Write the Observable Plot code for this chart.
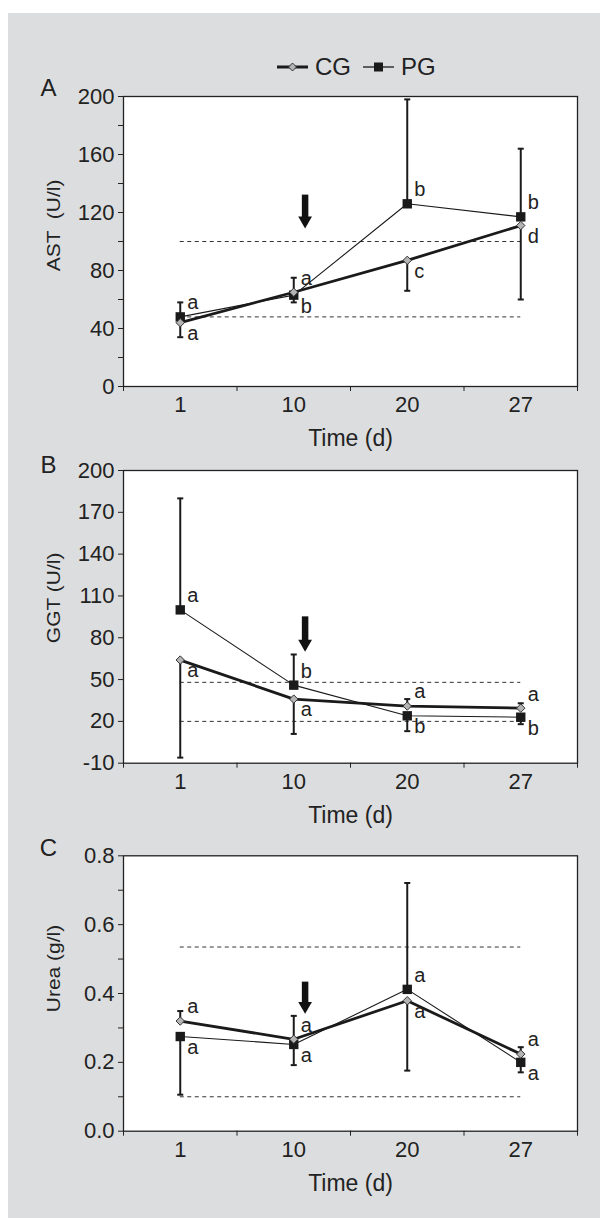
<!DOCTYPE html>
<html>
<head>
<meta charset="utf-8">
<script src="https://cdn.jsdelivr.net/npm/d3@7"></script>
<script src="https://cdn.jsdelivr.net/npm/@observablehq/plot@0.6"></script>
<style>
  html, body { margin: 0; padding: 0; background: #ffffff; }
  body { position: relative; width: 600px; height: 1218px; overflow: hidden; }
  #bg { position: absolute; left: 8px; top: 13px; width: 592px; height: 1205px; background: #dcdddf; }
  .panel { position: absolute; left: 0; }
  #legend { position: absolute; left: 277px; top: 53px; height: 28px; display: flex; align-items: center;
            font-family: "Liberation Sans Narrow","Arial Narrow","Liberation Sans",Arial,sans-serif; font-size: 24px; color: #222; }
  #legend .item { display: flex; align-items: center; margin-right: 12px; }
  #legend svg { margin-right: 7px; }
</style>
</head>
<body>
<div id="bg"></div>
<div id="legend"></div>
<div id="pA" class="panel" style="top:0px"></div>
<div id="pB" class="panel" style="top:420px"></div>
<div id="pC" class="panel" style="top:800px"></div>
<script>
const FONT = '"Liberation Sans Narrow","Arial Narrow","Liberation Sans",Arial,sans-serif';
const FONT_REG = '"Liberation Sans",Arial,sans-serif';

// ---- data ----
const days = ["1", "10", "20", "27"];
const groups = ["CG", "PG"];

// A: AST (U/l)
const astCG = [44, 65, 87, 111];
const astPG = [48, 63, 126, 117];
const astCGErr = [34, 58, 66, 60];     // end of CG error bar
const astPGErr = [58, 75, 198, 164];   // end of PG error bar
const astRef = [48, 100];
const astUpper = ["a", "a", "b", "b"];
const astLower = ["a", "b", "c", "d"];
const astArrow = [132, 109];           // arrow top, tip
const astTicks = [0, 40, 80, 120, 160, 200];
const astMinor = [20, 60, 100, 140, 180];

// B: GGT (U/l)
const ggtCG = [64, 36, 31, 29.5];
const ggtPG = [100, 46, 24, 23];
const ggtCGErr = [-6, 11, 36, 33];
const ggtPGErr = [180, 68, 13, 18];
const ggtRef = [20, 48];
const ggtUpper = ["a", "b", "a", "a"];
const ggtLower = ["a", "a", "b", "b"];
const ggtArrow = [95, 70];
const ggtTicks = [-10, 20, 50, 80, 110, 140, 170, 200];
const ggtMinor = [];

// C: Urea (g/l)
const ureaCG = [0.32, 0.267, 0.379, 0.224];
const ureaPG = [0.275, 0.252, 0.412, 0.20];
const ureaCGErr = [0.349, 0.335, 0.176, 0.244];
const ureaPGErr = [0.106, 0.192, 0.721, 0.171];
const ureaRef = [0.10, 0.535];
const ureaUpper = ["a", "a", "a", "a"];
const ureaLower = ["a", "a", "a", "a"];
const ureaArrow = [0.433, 0.341];
const ureaTicks = [0, 0.2, 0.4, 0.6, 0.8];
const ureaMinor = [0.1, 0.3, 0.5, 0.7];

const arrowPos = 1.6; // position on the time axis (just after day 10)

// ---- legend ----
const legend = document.getElementById("legend");
groups.forEach(g => {
  const item = document.createElement("span");
  item.className = "item";
  const marker = g === "CG"
    ? '<path d="M15.5 3 L19.5 7 L15.5 11 L11.5 7 Z" fill="#b4b4b4" stroke="#333" stroke-width="1"/>'
    : '<rect x="11" y="2.5" width="9" height="9" fill="#1a1a1a"/>';
  item.innerHTML = `<svg width="31" height="14"><line x1="0" y1="7" x2="31" y2="7" stroke="#1a1a1a" stroke-width="${g === "CG" ? 3 : 1.3}"/>${marker}</svg><span>${g}</span>`;
  legend.appendChild(item);
});

// ---- panel builder ----
const capSymbol = {
  draw(ctx, size) { const r = Math.sqrt(size) / 2; ctx.moveTo(-r, 0); ctx.lineTo(r, 0); }
};

function panel(cfg) {
  const data = days.flatMap((d, i) => [
    {group: "CG", day: d, pos: i + 0.5, v: cfg.cg[i], err: cfg.cgErr[i]},
    {group: "PG", day: d, pos: i + 0.5, v: cfg.pg[i], err: cfg.pgErr[i]}
  ]);
  const cgRows = data.filter(d => d.group === "CG");
  const pgRows = data.filter(d => d.group === "PG");
  const upper = days.map((d, i) => ({pos: i + 0.5, v: Math.max(cfg.cg[i], cfg.pg[i]), t: cfg.upper[i]}));
  const lower = days.map((d, i) => ({pos: i + 0.5, v: Math.min(cfg.cg[i], cfg.pg[i]), t: cfg.lower[i]}));
  const arrow = [{x: arrowPos, top: cfg.arrow[0], tip: cfg.arrow[1]}];
  const ink = "#1a1a1a";

  const svg = Plot.plot({
    width: 600,
    height: cfg.height,
    marginLeft: 123,
    marginRight: 23,
    marginTop: cfg.mt,
    marginBottom: cfg.mb,
    style: {background: "transparent", fontFamily: FONT, fontSize: "22px", color: "#222", overflow: "visible"},
    x: {domain: [0, days.length], label: null},
    y: {domain: cfg.domain, label: null},
    marks: [
      Plot.frame({fill: "white", stroke: "none"}),
      Plot.ruleY(cfg.ref, {y: d => d, x1: 0.5, x2: days.length - 0.5, stroke: "#333", strokeWidth: 1, strokeDasharray: "4,3.5"}),
      Plot.ruleX(data, {x: "pos", y1: "v", y2: "err", stroke: ink, strokeWidth: 2}),
      Plot.dot(data, {x: "pos", y: "err", symbol: capSymbol, r: 3.4, stroke: ink, strokeWidth: 2, fill: "none"}),
      Plot.line(pgRows, {x: "pos", y: "v", stroke: ink, strokeWidth: 1.1}),
      Plot.dot(pgRows, {x: "pos", y: "v", symbol: "square", r: 5.3, fill: ink, stroke: "none"}),
      Plot.line(cgRows, {x: "pos", y: "v", stroke: ink, strokeWidth: 2.8}),
      Plot.dot(cgRows, {x: "pos", y: "v", symbol: "diamond2", r: 3.8, fill: "#b4b4b4", stroke: "#333", strokeWidth: 1}),
      Plot.text(upper, {x: "pos", y: "v", text: "t", textAnchor: "start", dx: 7, dy: -14, fontSize: 20, fill: "#222"}),
      Plot.text(lower, {x: "pos", y: "v", text: "t", textAnchor: "start", dx: 7, dy: 11, fontSize: 20, fill: "#222"}),
      Plot.ruleX(arrow, {x: "x", y1: "top", y2: "tip", stroke: "#111", strokeWidth: 6.5, insetBottom: 9}),
      Plot.dot(arrow, {x: "x", y: "tip", symbol: "triangle", rotate: 180, r: 5.1, fill: "#111", stroke: "none", dy: -7.9}),
      Plot.axisY(cfg.ticks, {tickSize: 5, tickPadding: 4, tickFormat: cfg.fmt, fontSize: 22, stroke: "#222", fill: "#222"}),
      Plot.axisY(cfg.minor, {tickSize: 5, tickFormat: () => "", stroke: "#222"}),
      Plot.axisX(d3.range(days.length + 1), {tickSize: 5, tickFormat: () => "", stroke: "#222"}),
      Plot.axisX(days.map((d, i) => i + 0.5), {tickSize: 0, tickPadding: 10, tickFormat: p => days[Math.round(p - 0.5)], fontSize: 22, fill: "#222"}),
      Plot.frame({stroke: "#222", strokeWidth: 1.3}),
      Plot.text(["Time (d)"], {text: d => d, frameAnchor: "bottom", lineAnchor: "middle", textAnchor: "middle", dy: 52, fontSize: 23, fill: "#222"}),
      Plot.text([cfg.ylabel], {text: d => d, frameAnchor: "left", textAnchor: "middle", lineAnchor: "middle", dx: -70, dy: cfg.ylabelDy, rotate: -90, fontSize: 21, fontFamily: FONT_REG, fill: "#222", className: "ylab"}),
      Plot.text([cfg.letter], {text: d => d, frameAnchor: "top-left", textAnchor: "middle", lineAnchor: "middle", dx: -75, dy: cfg.letterDy, fontSize: 24, fill: "#222"})
    ]
  });
  // compress the rotated axis title across its lines, as in the original
  d3.select(svg).selectAll(".ylab text").each(function() {
    const t = this.getAttribute("transform") || "";
    this.setAttribute("transform", t + " scale(1,0.9)");
  });
  return svg;
}

const plainFmt = d => String(d);
const oneDec = d => d.toFixed(1);

document.getElementById("pA").appendChild(panel({
  height: 460, mt: 96, mb: 74, domain: [0, 200],
  cg: astCG, pg: astPG, cgErr: astCGErr, pgErr: astPGErr, ref: astRef,
  upper: astUpper, lower: astLower, arrow: astArrow, ticks: astTicks, minor: astMinor,
  fmt: plainFmt, ylabel: "AST  (U/l)", ylabelDy: -16, letter: "A", letterDy: -8.5
}));
document.getElementById("pB").appendChild(panel({
  height: 430, mt: 50, mb: 87.3, domain: [-10, 200],
  cg: ggtCG, pg: ggtPG, cgErr: ggtCGErr, pgErr: ggtPGErr, ref: ggtRef,
  upper: ggtUpper, lower: ggtLower, arrow: ggtArrow, ticks: ggtTicks, minor: ggtMinor,
  fmt: plainFmt, ylabel: "GGT (U/l)", ylabelDy: -19, letter: "B", letterDy: -5
}));
document.getElementById("pC").appendChild(panel({
  height: 418, mt: 55.3, mb: 87.3, domain: [0, 0.8],
  cg: ureaCG, pg: ureaPG, cgErr: ureaCGErr, pgErr: ureaPGErr, ref: ureaRef,
  upper: ureaUpper, lower: ureaLower, arrow: ureaArrow, ticks: ureaTicks, minor: ureaMinor,
  fmt: oneDec, ylabel: "Urea (g/l)", ylabelDy: -25, letter: "C", letterDy: -7
}));
</script>
</body>
</html>
